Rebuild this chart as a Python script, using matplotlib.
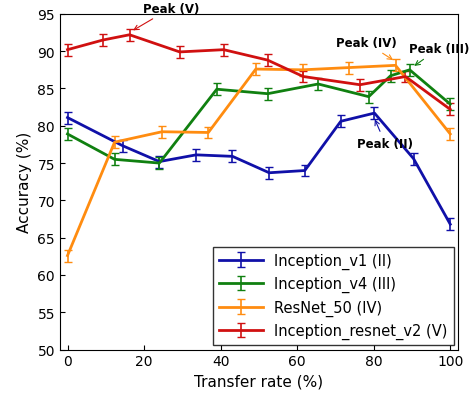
import matplotlib
matplotlib.use("Agg")
import matplotlib.pyplot as plt

x_v1 = [0, 14.5, 24, 33.6, 43.1, 52.7, 62, 71.4, 80.2, 90.4, 100]
y_v1 = [81.1, 77.3, 75.2, 76.1, 75.9, 73.7, 74.0, 80.6, 81.7, 75.6, 66.8]
x_v4 = [0, 12.3, 24, 39, 52.3, 65.5, 78.7, 84.4, 89.4, 100]
y_v4 = [78.9, 75.5, 75.0, 84.9, 84.3, 85.6, 83.9, 86.7, 87.5, 82.9]
x_r50 = [0, 12.3, 24.7, 36.8, 49.2, 61.4, 73.5, 85.7, 100]
y_r50 = [62.6, 77.8, 79.2, 79.1, 87.6, 87.5, 87.8, 88.1, 78.9]
x_irv2 = [0, 9.3, 16.2, 29.3, 40.8, 52.3, 61.6, 76.4, 88.3, 100]
y_irv2 = [90.2, 91.5, 92.2, 89.9, 90.2, 88.8, 86.6, 85.5, 86.6, 82.2]
err = 0.8

fig = plt.figure(figsize=(4.75, 4.02), dpi=100)
ax = fig.add_axes([0.126, 0.128, 0.838, 0.835])
series = [(x_v1, y_v1, "#1010a8", "Inception_v1 (II)"),
          (x_v4, y_v4, "#108010", "Inception_v4 (III)"),
          (x_r50, y_r50, "#ff8c10", "ResNet_50 (IV)"),
          (x_irv2, y_irv2, "#d01010", "Inception_resnet_v2 (V)")]
for xs, ys, c, lab in series:
    ax.errorbar(xs, ys, yerr=err, color=c, lw=2, capsize=3, elinewidth=1.2, label=lab)

ax.set_xlim(-2, 102)
ax.set_ylim(50, 95)
ax.set_xticks(range(0, 101, 20))
ax.set_yticks(range(50, 96, 5))
ax.tick_params(direction="in")
ax.set_xlabel("Transfer rate (%)", fontsize=11)
ax.set_ylabel("Accuracy (%)", fontsize=11)
ax.legend(loc="lower right", fontsize=10.5, frameon=True, fancybox=False,
          edgecolor="black", handlelength=3, borderaxespad=0.3).get_frame().set_linewidth(1)

def ann(txt, xy, xyt, c):
    ax.annotate(txt, xy=xy, xytext=xyt, fontsize=8.5, fontweight="bold", ha="center",
                arrowprops=dict(arrowstyle="->", color=c, lw=0.8), annotation_clip=False)
ann("Peak (V)", (16.5, 92.6), (27, 95.3), "#d01010")
ann("Peak (IV)", (85.7, 88.6), (78, 90.7), "#ff8c10")
ann("Peak (III)", (90, 87.8), (97, 89.9), "#108010")
ann("Peak (II)", (80, 81.2), (83, 77.2), "#1010a8")
fig.savefig("out.png", dpi=100)
